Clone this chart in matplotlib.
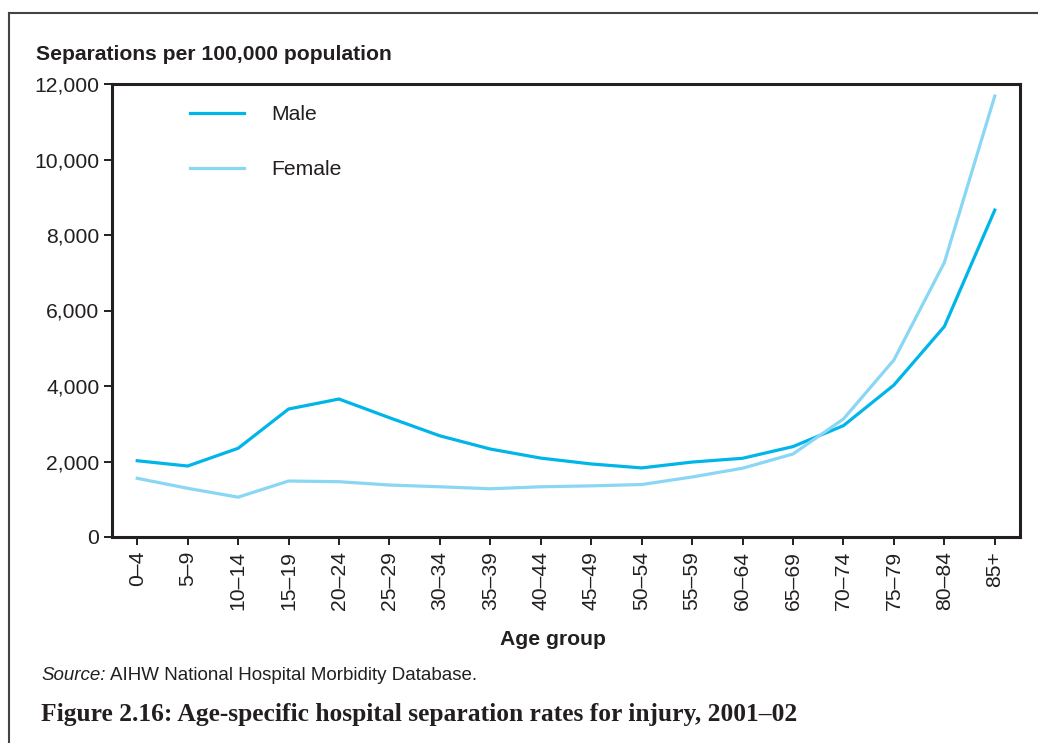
import matplotlib
matplotlib.use("Agg")
import matplotlib.pyplot as plt
from matplotlib.lines import Line2D
from matplotlib.ticker import FuncFormatter

age_groups = ["0–4", "5–9", "10–14", "15–19", "20–24", "25–29", "30–34", "35–39",
              "40–44", "45–49", "50–54", "55–59", "60–64", "65–69", "70–74",
              "75–79", "80–84", "85+"]
male = [2020, 1880, 2350, 3390, 3655, 3160, 2680, 2330, 2090, 1935, 1830,
        1985, 2085, 2395, 2950, 4025, 5575, 8660]
female = [1555, 1290, 1055, 1483, 1465, 1377, 1330, 1278, 1330, 1355, 1390,
          1590, 1822, 2199, 3126, 4689, 7270, 11680]
series_labels = ["Male", "Female"]
y_ticks = [0, 2000, 4000, 6000, 8000, 10000, 12000]

male_color = "#00b5e8"
female_color = "#8ad6f5"
dark = "#231f20"
FS = 15.2

plt.rcParams['font.family'] = ['Liberation Sans', 'DejaVu Sans']

W, H = 1038, 743
fig = plt.figure(figsize=(W / 100, H / 100), dpi=100)
ax = fig.add_axes([112 / W, 1 - 537 / H, 908 / W, 453 / H])

x = list(range(len(age_groups)))
ax.plot(x, male, color=male_color, lw=2.3, label=series_labels[0], solid_joinstyle='miter')
ax.plot(x, female, color=female_color, lw=2.3, label=series_labels[1], solid_joinstyle='miter')

ax.set_xlim(-0.5, 17.5)
ax.set_ylim(0, 12000)
ax.set_xticks(x)
ax.set_xticklabels(age_groups, rotation=90, fontsize=FS, color=dark)
ax.set_yticks(y_ticks)
ax.yaxis.set_major_formatter(FuncFormatter(lambda v, p: f"{int(v):,}"))
ax.tick_params(axis='both', direction='out', length=6, width=1.4, color=dark, pad=4)
ax.tick_params(axis='y', labelsize=FS, labelcolor=dark, pad=3)
for s in ax.spines.values():
    s.set_linewidth(2.2)
    s.set_color(dark)

leg = ax.legend(loc='upper left', bbox_to_anchor=((190 - 112) / 908, (537 - 105) / 453),
                frameon=False, fontsize=FS, handlelength=2.55, handletextpad=1.3,
                labelspacing=1.7, borderpad=0, borderaxespad=0)
for t in leg.get_texts():
    t.set_color(dark)

fig.text(36 / W, 1 - 60 / H, "Separations per 100,000 population", fontsize=FS,
         fontweight='bold', color=dark, ha='left', va='baseline')
fig.text(553 / W, 1 - 645 / H, "Age group", fontsize=FS, fontweight='bold',
         color=dark, ha='center', va='baseline')
t1 = fig.text(41 / W, 1 - 680 / H, "Source:", fontsize=13.5, style='italic',
              color=dark, ha='left', va='baseline')
fig.canvas.draw()
bb = t1.get_window_extent()
fig.text((bb.x1 + 4) / W, 1 - 680 / H, "AIHW National Hospital Morbidity Database.",
         fontsize=13.5, color=dark, ha='left', va='baseline')
fig.text(41 / W, 1 - 721 / H, "Figure 2.16: Age-specific hospital separation rates for injury, 2001–02",
         fontsize=18.4, fontweight='bold', color=dark, ha='left', va='baseline',
         family=['Liberation Serif', 'DejaVu Serif'])

# outer frame
fig.add_artist(Line2D([9 / W, 9 / W], [0, 1 - 13 / H], transform=fig.transFigure,
                      color='#444444', lw=1.5))
fig.add_artist(Line2D([9 / W, 1.0], [1 - 13 / H, 1 - 13 / H], transform=fig.transFigure,
                      color='#444444', lw=1.5))

fig.savefig("out.png", dpi=100)
